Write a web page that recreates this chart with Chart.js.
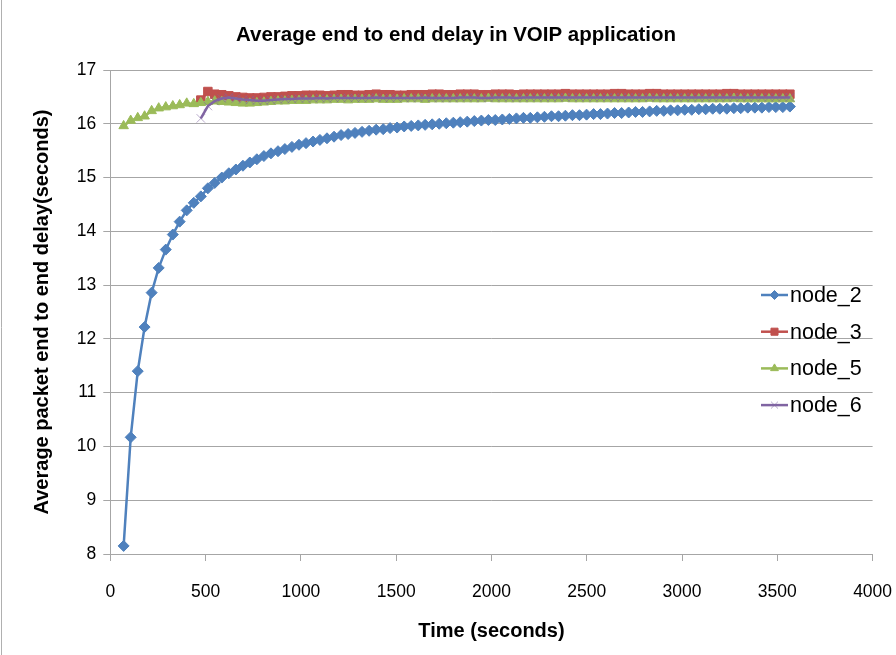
<!DOCTYPE html>
<html>
<head>
<meta charset="utf-8">
<title>Average end to end delay in VOIP application</title>
<script src="https://cdn.jsdelivr.net/npm/chart.js@4/dist/chart.umd.min.js"></script>
<style>
    html, body { margin: 0; padding: 0; background: #ffffff; overflow: hidden; }
    canvas { display: block; }
</style>
</head>
<body>
<canvas id="voip_delay_chart" width="896" height="655"></canvas>
<script>
// sample times (seconds)
const sample_times = [
    70, 107, 144, 180, 217, 254, 291, 328, 364, 401,
    438, 475, 512, 548, 585, 622, 659, 696, 732, 769,
    806, 843, 880, 916, 953, 990, 1027, 1064, 1100, 1137,
    1174, 1211, 1248, 1284, 1321, 1358, 1395, 1432, 1468, 1505,
    1542, 1579, 1616, 1652, 1689, 1726, 1763, 1800, 1836, 1873,
    1910, 1947, 1984, 2020, 2057, 2094, 2131, 2168, 2204, 2241,
    2278, 2315, 2352, 2388, 2425, 2462, 2499, 2536, 2572, 2609,
    2646, 2683, 2720, 2756, 2793, 2830, 2867, 2904, 2940, 2977,
    3014, 3051, 3088, 3124, 3161, 3198, 3235, 3272, 3308, 3345,
    3382, 3419, 3456, 3492, 3529, 3566
];

// node_3 and node_6 only start reporting at this sample
const late_start = 11;

const node_2_delay = [
    8.15, 10.17, 11.40, 12.22, 12.86, 13.32, 13.66, 13.94, 14.18, 14.39,
    14.53, 14.65, 14.80, 14.90, 15.00, 15.08, 15.15, 15.22, 15.28, 15.34,
    15.40, 15.45, 15.49, 15.53, 15.57, 15.61, 15.64, 15.67, 15.70, 15.73,
    15.76, 15.79, 15.81, 15.83, 15.85, 15.87, 15.89, 15.90, 15.92, 15.93,
    15.95, 15.96, 15.97, 15.98, 15.99, 16.00, 16.01, 16.02, 16.03, 16.04,
    16.05, 16.06, 16.07, 16.07, 16.08, 16.09, 16.10, 16.11, 16.11, 16.12,
    16.13, 16.14, 16.14, 16.15, 16.16, 16.16, 16.17, 16.18, 16.18, 16.19,
    16.20, 16.20, 16.21, 16.22, 16.22, 16.23, 16.24, 16.24, 16.25, 16.25,
    16.26, 16.26, 16.27, 16.27, 16.28, 16.28, 16.28, 16.29, 16.29, 16.30,
    16.30, 16.30, 16.31, 16.31, 16.31, 16.32
];

const node_3_delay = [
    16.44, 16.60, 16.55, 16.54, 16.52, 16.50, 16.49, 16.48, 16.48, 16.49,
    16.50, 16.50, 16.51, 16.52, 16.52, 16.53, 16.53, 16.53, 16.52, 16.53,
    16.54, 16.54, 16.53, 16.53, 16.54, 16.55, 16.54, 16.54, 16.53, 16.53,
    16.54, 16.54, 16.54, 16.55, 16.55, 16.54, 16.54, 16.55, 16.55, 16.55,
    16.54, 16.54, 16.55, 16.55, 16.55, 16.54, 16.55, 16.55, 16.55, 16.55,
    16.55, 16.55, 16.56, 16.55, 16.55, 16.55, 16.55, 16.55, 16.55, 16.56,
    16.56, 16.55, 16.55, 16.55, 16.56, 16.56, 16.55, 16.55, 16.55, 16.55,
    16.55, 16.55, 16.55, 16.55, 16.55, 16.56, 16.56, 16.55, 16.55, 16.55,
    16.55, 16.55, 16.55, 16.55, 16.55
];

const node_5_delay = [
    15.96, 16.06, 16.11, 16.14, 16.24, 16.29, 16.31, 16.33, 16.35, 16.38,
    16.37, 16.39, 16.41, 16.42, 16.41, 16.40, 16.39, 16.38, 16.38, 16.39,
    16.40, 16.41, 16.42, 16.42, 16.43, 16.43, 16.43, 16.44, 16.44, 16.44,
    16.45, 16.45, 16.44, 16.45, 16.45, 16.45, 16.46, 16.45, 16.45, 16.45,
    16.46, 16.46, 16.46, 16.45, 16.46, 16.46, 16.46, 16.46, 16.46, 16.46,
    16.46, 16.46, 16.47, 16.46, 16.46, 16.46, 16.46, 16.46, 16.46, 16.46,
    16.46, 16.46, 16.46, 16.47, 16.46, 16.46, 16.46, 16.46, 16.46, 16.46,
    16.46, 16.46, 16.46, 16.46, 16.46, 16.47, 16.46, 16.46, 16.46, 16.46,
    16.46, 16.46, 16.46, 16.46, 16.46, 16.46, 16.46, 16.47, 16.46, 16.46,
    16.46, 16.46, 16.46, 16.46, 16.46, 16.46
];

const node_6_delay = [
    16.10, 16.33, 16.42, 16.47, 16.49, 16.47, 16.45, 16.44, 16.43, 16.43,
    16.44, 16.45, 16.46, 16.46, 16.47, 16.47, 16.47, 16.48, 16.47, 16.48,
    16.48, 16.48, 16.48, 16.48, 16.48, 16.49, 16.48, 16.48, 16.48, 16.48,
    16.48, 16.48, 16.49, 16.48, 16.48, 16.48, 16.48, 16.49, 16.49, 16.49,
    16.48, 16.48, 16.49, 16.49, 16.49, 16.48, 16.49, 16.49, 16.49, 16.49,
    16.49, 16.49, 16.49, 16.49, 16.49, 16.49, 16.49, 16.49, 16.49, 16.49,
    16.49, 16.49, 16.49, 16.49, 16.49, 16.49, 16.49, 16.49, 16.49, 16.49,
    16.49, 16.49, 16.49, 16.49, 16.49, 16.49, 16.49, 16.49, 16.49, 16.49,
    16.49, 16.49, 16.49, 16.49, 16.49
];

const series_names = ["node_2", "node_3", "node_5", "node_6"];
const series_colors = ["#4f81bd", "#c0504d", "#9bbb59", "#8064a2"];

function to_points(times, values)
{
    return values.map((v, i) => ({ x: times[i], y: v }));
}

const late_times = sample_times.slice(late_start);

const grid_color = "#a6a6a6";
const base_font = "'Liberation Sans', Arial, sans-serif";

Chart.defaults.font.family = base_font;
Chart.defaults.color = "#000000";

// white page plus the thin frame line on the left
const frame_plugin =
{
    id: "frame",
    beforeDraw(chart)
    {
        const ctx = chart.ctx;
        ctx.save();
        ctx.fillStyle = "#ffffff";
        ctx.fillRect(0, 0, chart.width, chart.height);
        ctx.strokeStyle = "#b0b0b0";
        ctx.lineWidth = 1;
        ctx.beginPath();
        ctx.moveTo(1.5, 0);
        ctx.lineTo(1.5, chart.height);
        ctx.stroke();
        ctx.restore();
    }
};

// legend drawn inside the plot: short line with the marker, then the name
const line_legend_plugin =
{
    id: "line_legend",
    afterDraw(chart)
    {
        const ctx = chart.ctx;
        const x0 = 761, x1 = 788, top = 295, gap = 36.7;
        ctx.save();
        chart.data.datasets.forEach((ds, i) =>
        {
            const y = top + i * gap;
            ctx.strokeStyle = ds.borderColor;
            ctx.lineWidth = 2.5;
            ctx.beginPath();
            ctx.moveTo(x0, y);
            ctx.lineTo(x1, y);
            ctx.stroke();
            ctx.fillStyle = ds.pointBackgroundColor;
            ctx.strokeStyle = ds.pointBorderColor;
            ctx.lineWidth = ds.pointBorderWidth;
            Chart.helpers.drawPoint(ctx,
            {
                pointStyle: ds.pointStyle,
                radius: ds.pointRadius - 1,
                rotation: 0,
                borderWidth: ds.pointBorderWidth
            }, (x0 + x1) / 2, y);
            ctx.fillStyle = "#000000";
            ctx.font = "21.5px " + base_font;
            ctx.textBaseline = "middle";
            ctx.textAlign = "left";
            ctx.fillText(ds.label, x1 + 2, y + 1);
        });
        ctx.restore();
    }
};

const voip_delay_chart = new Chart("voip_delay_chart",
{
    type: "line",
    data:
    {
        datasets:
        [
            {
                label: series_names[0],
                data: to_points(sample_times, node_2_delay),
                borderColor: series_colors[0],
                borderWidth: 2.5,
                pointStyle: "rectRot",
                pointRadius: 5.5,
                pointBackgroundColor: series_colors[0],
                pointBorderColor: series_colors[0],
                pointBorderWidth: 1,
                order: 3
            },
            {
                label: series_names[1],
                data: to_points(late_times, node_3_delay),
                borderColor: series_colors[1],
                borderWidth: 2.5,
                pointStyle: "rect",
                pointRadius: 6,
                pointBackgroundColor: series_colors[1],
                pointBorderColor: series_colors[1],
                pointBorderWidth: 1,
                order: 2
            },
            {
                label: series_names[2],
                data: to_points(sample_times, node_5_delay),
                borderColor: series_colors[2],
                borderWidth: 2.5,
                pointStyle: "triangle",
                pointRadius: 5.5,
                pointBackgroundColor: series_colors[2],
                pointBorderColor: series_colors[2],
                pointBorderWidth: 1,
                order: 1
            },
            {
                label: series_names[3],
                data: to_points(late_times, node_6_delay),
                borderColor: series_colors[3],
                borderWidth: 2.5,
                pointStyle: "crossRot",
                pointRadius: 6,
                pointBackgroundColor: "rgba(128, 100, 162, 0.55)",
                pointBorderColor: "rgba(128, 100, 162, 0.55)",
                pointBorderWidth: 1,
                order: 0
            }
        ]
    },
    options:
    {
        responsive: false,
        animation: false,
        events: [],
        layout:
        {
            padding: { left: 16, right: 0, top: 0, bottom: 0 }
        },
        elements:
        {
            line: { tension: 0 }
        },
        plugins:
        {
            legend: { display: false },
            tooltip: { enabled: false },
            title:
            {
                display: true,
                text: "Average end to end delay in VOIP application",
                font: { size: 20.5, weight: "bold" },
                color: "#000000",
                padding: { top: 22.7, bottom: 22.7 }
            }
        },
        scales:
        {
            x:
            {
                type: "linear",
                min: 0,
                max: 4000,
                border: { color: grid_color, width: 1 },
                grid:
                {
                    drawOnChartArea: false,
                    drawTicks: true,
                    tickLength: 7,
                    color: grid_color
                },
                ticks:
                {
                    stepSize: 500,
                    autoSkip: false,
                    maxRotation: 0,
                    padding: 21,
                    font: { size: 17.5 },
                    color: "#000000",
                    callback: (value) => String(value)
                },
                title:
                {
                    display: true,
                    text: "Time (seconds)",
                    font: { size: 20, weight: "bold" },
                    color: "#000000",
                    padding: { top: 0, bottom: 12 }
                },
                afterFit(scale)
                {
                    scale.height = 101;
                    scale.paddingLeft = 0;
                    scale.paddingRight = 23.4;
                }
            },
            y:
            {
                min: 8,
                max: 17,
                border: { color: grid_color, width: 1 },
                grid:
                {
                    drawTicks: true,
                    tickLength: 7,
                    color: grid_color
                },
                ticks:
                {
                    stepSize: 1,
                    padding: 7,
                    font: { size: 17.5 },
                    color: "#000000"
                },
                title:
                {
                    display: true,
                    text: "Average packet end to end delay(seconds)",
                    font: { size: 20, weight: "bold" },
                    color: "#000000",
                    padding: { top: 14, bottom: 0 }
                },
                afterFit(scale)
                {
                    scale.width = 94.3;
                }
            }
        }
    },
    plugins: [frame_plugin, line_legend_plugin]
});
</script>
</body>
</html>
